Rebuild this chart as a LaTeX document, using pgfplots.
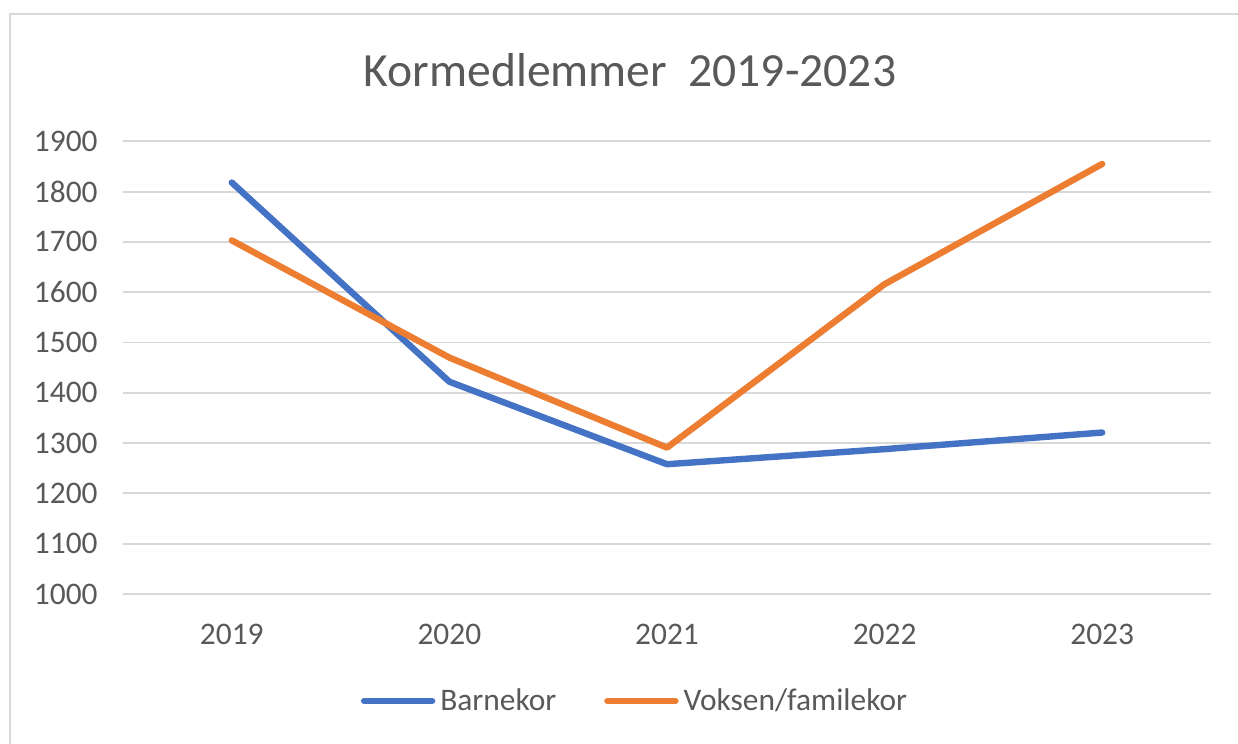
\documentclass[border=0pt]{standalone}
\usepackage{pgfplots}
\pgfplotsset{compat=1.18}
\usepackage{fontspec}
\setmainfont{Carlito}
\definecolor{cblue}{HTML}{4472C4}
\definecolor{corange}{HTML}{ED7D31}
\definecolor{ctext}{HTML}{595959}
\definecolor{cgrid}{HTML}{D9D9D9}
\begin{document}
\begin{tikzpicture}
\useasboundingbox[fill=white] (0,0) rectangle (619pt,372pt);
\draw[cgrid, line width=1pt] (5pt,-10pt) -- (5pt,365pt) -- (640pt,365pt);
\begin{axis}[
  at={(61.5pt,75pt)}, anchor=south west,
  scale only axis, width=544pt, height=226.35pt,
  xmin=-0.5, xmax=4.5, ymin=1000, ymax=1900,
  xtick={0,1,2,3,4}, xticklabels={2019,2020,2021,2022,2023},
  ytick={1000,1100,...,1900},
  ymajorgrids, grid style={cgrid, line width=0.9pt},
  axis line style={draw=none}, major tick length=0pt,
  tick label style={font=\fontsize{15.7pt}{18pt}\selectfont, text=ctext},
  /pgf/number format/assume math mode=true,
  /pgf/number format/set thousands separator={},
  yticklabel style={anchor=east, inner sep=0pt, xshift=-12.5pt},
  xticklabel style={anchor=center, inner sep=0pt, yshift=-20pt},
  title={Kormedlemmer\hspace{0.45em}2019-2023},
  title style={at={(0.466,1.131)}, anchor=center, font=\fontsize{23.8pt}{28pt}\selectfont, text=ctext, inner sep=0pt},
  legend columns=2,
  legend style={at={(0.4715,-0.2364)}, anchor=center, draw=none, fill=none,
    font=\fontsize{15.7pt}{18pt}\selectfont, text=ctext,
    /tikz/every even column/.append style={column sep=22pt},
    /tikz/every odd column/.append style={column sep=0.5pt}},
  legend image code/.code={\draw[#1] (0pt,0pt) -- (34pt,0pt);},
  every axis plot/.append style={line width=3.2pt, line cap=round, line join=round},
]
\addplot[cblue, mark=none] coordinates {(0,1818) (1,1422) (2,1258) (3,1288) (4,1321)};
\addlegendentry{Barnekor}
\addplot[corange, mark=none] coordinates {(0,1703) (1,1470) (2,1291) (3,1616) (4,1855)};
\addlegendentry{Voksen/familekor}
\end{axis}
\end{tikzpicture}
\end{document}
